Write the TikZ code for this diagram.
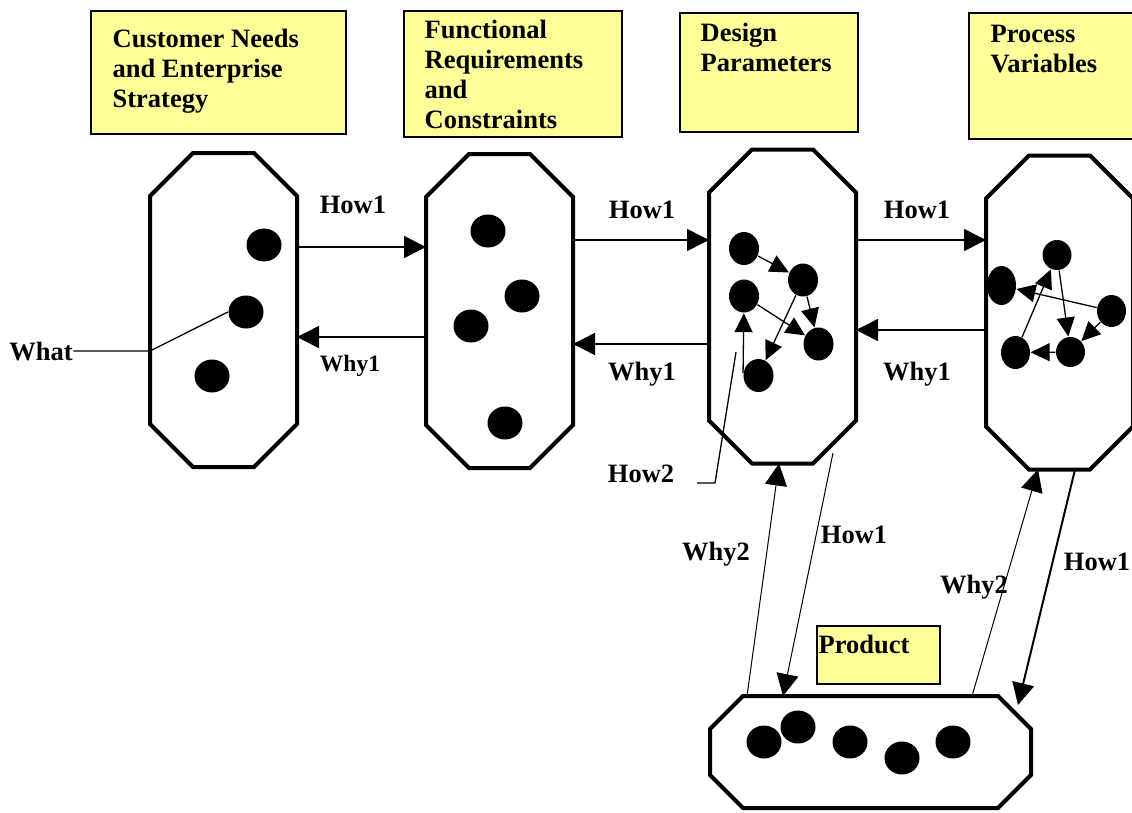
\documentclass[tikz,border=0pt]{standalone}
\usepackage{fontspec}
\setmainfont{Liberation Serif}
\usetikzlibrary{arrows.meta}
\usetikzlibrary{shapes.geometric}
\definecolor{notey}{HTML}{FFFF99}
% octagon round a domain node: #1 node name, #2 chamfer
\newcommand{\octa}[2]{\draw[line width=4pt] ([xshift=#2]#1.north west) -- ([xshift=-#2]#1.north east)
  -- ([yshift=-#2]#1.north east) -- ([yshift=#2]#1.south east) -- ([xshift=-#2]#1.south east)
  -- ([xshift=#2]#1.south west) -- ([yshift=#2]#1.south west) -- ([yshift=-#2]#1.north west) -- cycle;}

\begin{document}
\begin{tikzpicture}[x=1pt,y=-1pt,>={Triangle[length=19pt,width=18pt]},line width=1.3pt,
    domain node/.style={rectangle,inner sep=0pt,outer sep=0pt,minimum width=147pt,minimum height=314pt},
    map/.style={->,>={Triangle[length=22pt,width=22pt]}},
    title box/.style={draw,line width=1.5pt,fill=notey,anchor=north west,inner sep=0pt},
    title text/.style={anchor=north west,align=left,inner sep=0pt,font=\bfseries\fontsize{26.5}{30}\selectfont},
    lab/.style={inner sep=0pt,text depth=0pt,font=\bfseries\fontsize{26.5}{30}\selectfont},
    dot node/.style={ellipse,fill=black,inner sep=0pt,minimum width=35pt,minimum height=33pt}]
  \useasboundingbox (0,0) rectangle (1132,812);

  % domain titles
  \node[title box,minimum width=255,minimum height=123] (cnbox) at (90,10) {};
  \node[title text] at ([shift={(22,18)}]cnbox.north west) {Customer Needs\\and Enterprise\\Strategy};
  \node[title box,minimum width=218,minimum height=126] (frbox) at (403,10) {};
  \node[title text] at ([shift={(21,9)}]frbox.north west) {Functional\\Requirements\\and\\Constraints};
  \node[title box,minimum width=178,minimum height=119] (dpbox) at (679,12) {};
  \node[title text] at ([shift={(21,10)}]dpbox.north west) {Design\\Parameters};
  \node[title box,minimum width=175,minimum height=126] (pvbox) at (968,12) {};
  \node[title text] at ([shift={(22,12)}]pvbox.north west) {Process\\Variables};
  \node[title box,minimum width=123,minimum height=58] (prodbox) at (816,625) {};
  \node[title text] at ([shift={(2,9)}]prodbox.north west) {Product};

  % domains
  \node[domain node] (cn) at (223.5,310) {};
  \node[domain node] (fr) at (499.5,311) {};
  \node[domain node] (dp) at (782.5,306.5) {};
  \node[domain node] (pv) at (1059.5,312.5) {};
  \node[domain node,minimum width=321,minimum height=112] (prod) at (870.5,752) {};
  \octa{cn}{43}
  \octa{fr}{43}
  \octa{dp}{43}
  \octa{pv}{43}
  \octa{prod}{33}

  % elements
  \foreach \n/\p in {c1/{(264,245)},c2/{(246,312)},c3/{(212,376)},
      f1/{(488,231)},f2/{(522,296)},f3/{(471,326)},f4/{(505,423)},
      r1/{(764,742)},r2/{(798,727)},r3/{(850,742)},r4/{(902,758)},r5/{(953,742)}}
    \node[dot node] (\n) at \p {};
  \foreach \n/\p in {d1/{(744,248.5)},d2/{(803,280)},d3/{(744,296)},d4/{(818.5,344)},d5/{(758.5,375.5)}}
    \node[dot node,minimum width=30] (\n) at \p {};
  \node[dot node,minimum width=29,minimum height=30] (p1) at (1057,255) {};
  \node[dot node,minimum width=29,minimum height=39] (p2) at (1001.5,285.5) {};
  \node[dot node,minimum width=29,minimum height=32] (p3) at (1111.5,311) {};
  \node[dot node,minimum width=29,minimum height=33] (p4) at (1015.5,352.5) {};
  \node[dot node,minimum width=29,minimum height=30] (p5) at (1070.5,352) {};

  \path[->] (d1) edge (d2) (d3) edge (d4) (d2) edge (d4) (d2) edge (d5) (d5.170) edge (d3);
  \path[->] (p1) edge (p5) (p3) edge (p2) (p3) edge (p5) (p5) edge (p4) (p4) edge (p1);

  % mappings between domains
  \path[map,line width=1.5pt] ([yshift=63]cn.east) edge ([yshift=64]fr.west);
  \path[map,line width=1.5pt] ([yshift=-26]fr.west) edge ([yshift=-27]cn.east);
  \path[map,line width=1.5pt] ([yshift=71]fr.east) edge ([yshift=66.5]dp.west);
  \path[map,line width=1.5pt] ([yshift=-37.5]dp.west) edge ([yshift=-33]fr.east);
  \path[map,line width=1.5pt] ([yshift=66.5]dp.east) edge ([yshift=72.5]pv.west);
  \path[map,line width=1.5pt] ([yshift=-17.5]pv.west) edge ([yshift=-23.5]dp.east);

  \path[map,line width=1pt] ([xshift=-123.5]prod.north) edge ([xshift=-3.5]dp.south);
  \path[map,line width=1pt] ([shift={(50.5,-10.5)}]dp.south) edge ([xshift=-87.5]prod.north);
  \path[map,line width=1pt] ([xshift=101.5]prod.north) edge ([xshift=-21.5]pv.south);
  \path[map,line width=2pt] ([xshift=15.5]pv.south) edge ([shift={(147.5,9)}]prod.north);

  % labels
  \node[lab] (what) at (41,351) {What};
  \draw (what.east) -- ([yshift=-41]cn.west) -- (c2.west);
  \node[lab] (how2) at (641,474) {How2};
  \coordinate (h2start) at (697,483);
  \coordinate (h2bend) at (715,483);
  \coordinate (h2end) at (736,352);
  \draw (h2start) -- (h2bend) -- (h2end);

  \node[lab] at (353,205) {How1};
  \node[lab,font=\bfseries\fontsize{23.5}{28}\selectfont] at (350,363) {Why1};
  \node[lab] at (642,210) {How1};
  \node[lab] at (642,371) {Why1};
  \node[lab] at (917,210) {How1};
  \node[lab] at (917,371) {Why1};
  \node[lab] at (716,551) {Why2};
  \node[lab] at (854,535) {How1};
  \node[lab] at (974,584) {Why2};
  \node[lab] at (1097,562) {How1};
\end{tikzpicture}
\end{document}
